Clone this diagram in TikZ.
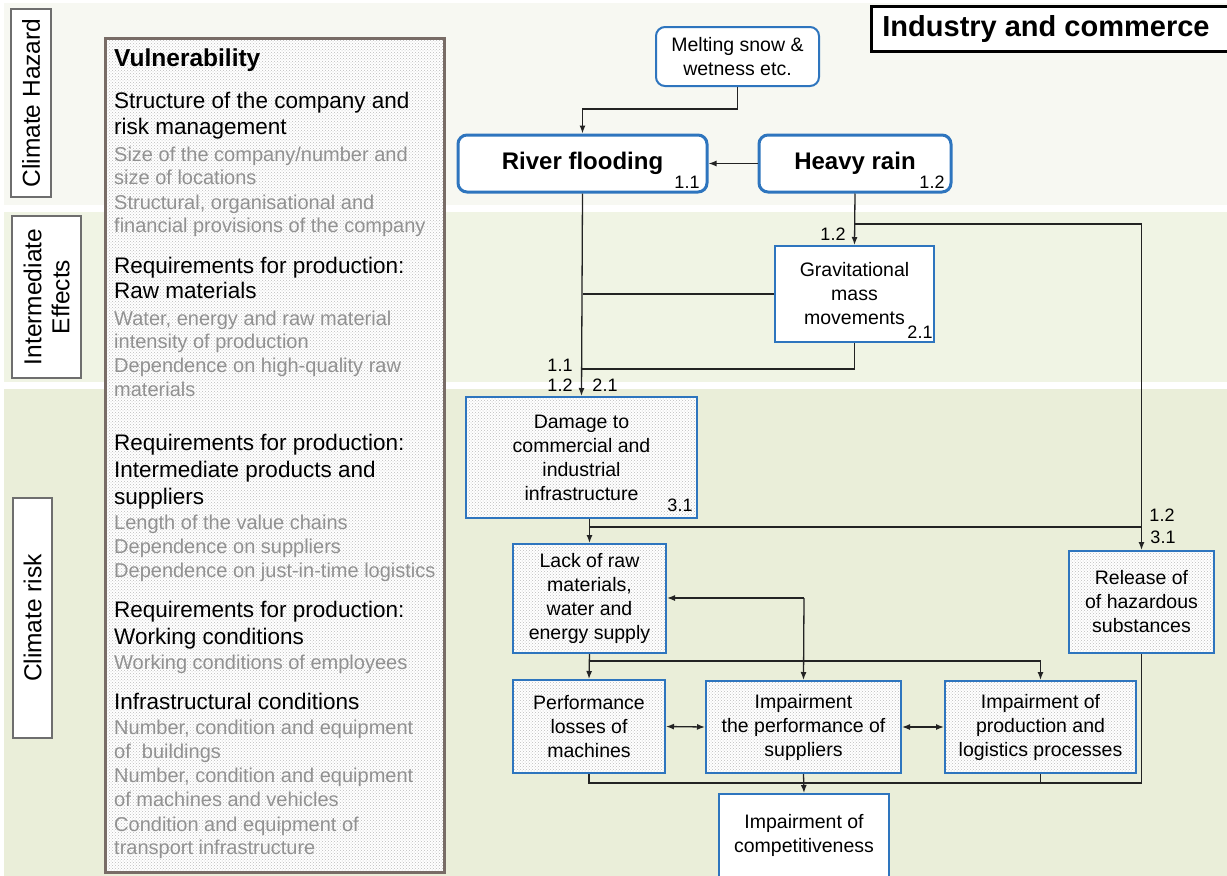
\documentclass[tikz,border=0pt]{standalone}
\usepackage{fontspec}
\setmainfont{Liberation Sans}
\usetikzlibrary{arrows.meta,patterns}

\definecolor{bandA}{RGB}{247,248,242}
\definecolor{bandB}{RGB}{240,244,228}
\definecolor{bandC}{RGB}{234,238,217}
\definecolor{flowblue}{RGB}{46,117,190}
\definecolor{vulnframe}{RGB}{120,108,102}
\definecolor{lightfont}{RGB}{145,145,145}
\definecolor{wire}{RGB}{35,35,35}
\definecolor{labelframe}{RGB}{110,110,110}

\newcommand{\fsz}[2]{\fontsize{#1}{#2}\selectfont}

\tikzset{
  sidelabel/.style={draw=labelframe, line width=1.2, fill=white, rotate=90,
    inner sep=0, align=center, font=\fsz{24.5}{28}},
  dotted fill/.style={preaction={fill=white}, pattern=crosshatch dots, pattern color=black!26},
  hazard/.style={draw=flowblue, line width=3, rounded corners=9, fill=white,
    inner sep=0, font=\bfseries\fsz{24}{28}},
  origin/.style={draw=flowblue, line width=2, rounded corners=9, fill=white,
    inner sep=0, align=center, font=\fsz{19.5}{24}},
  flowbox/.style={draw=flowblue, line width=2, fill=white, inner sep=0,
    align=center, font=\fsz{19.5}{24}},
  riskbox/.style={flowbox, dotted fill},
  tag/.style={inner sep=0, font=\fsz{18}{20}},
  vhead/.style={anchor=base west, inner sep=0, font=\fsz{22.5}{26}},
  vitem/.style={anchor=base west, inner sep=0, text=lightfont, font=\fsz{20}{24}},
  wireline/.style={draw=wire, line width=1.3},
  arr/.style={wireline, -{Latex[length=8pt,width=6pt]}},
  arrboth/.style={wireline, {Latex[length=8pt,width=6pt]}-{Latex[length=8pt,width=6pt]}},
}

\begin{document}
\begin{tikzpicture}[x=1pt,y=-1pt]
\useasboundingbox (0,0) rectangle (1227,876);
\fill[white] (0,0) rectangle (1227,876);

% horizontal bands: hazard, intermediate effects, risk
\fill[bandA] (4,3) rectangle (1227,205);
\fill[bandB] (4,212) rectangle (1227,382);
\fill[bandC] (4,389) rectangle (1227,876);

% band captions
\node[sidelabel, minimum width=188, minimum height=40] (capA) at (31,103) {Climate Hazard};
\node[sidelabel, minimum width=162, minimum height=69] (capB) at (46.5,297) {Intermediate\\Effects};
\node[sidelabel, minimum width=240, minimum height=39] (capC) at (32.5,618) {Climate risk};

% vulnerability panel
\node[draw=vulnframe, line width=3, dotted fill, minimum width=339, minimum height=834, inner sep=0] (vuln) at (274.5,455) {};
\node[vhead, font=\bfseries\fsz{24.5}{28}] (v0) at (114,66) {Vulnerability};
\node[vhead] (v1) at (114,108) {Structure of the company and};
\node[vhead] (v2) at (114,134) {risk management};
\node[vitem] (v3) at (114,161) {Size of the company/number and};
\node[vitem] (v4) at (114,184) {size of locations};
\node[vitem] (v5) at (114,209) {Structural, organisational and};
\node[vitem] (v6) at (114,232) {financial provisions of the company};
\node[vhead] (v7) at (114,273) {Requirements for production:};
\node[vhead] (v8) at (114,298) {Raw materials};
\node[vitem] (v9) at (114,325) {Water, energy and raw material};
\node[vitem] (v10) at (114,348) {intensity of production};
\node[vitem] (v11) at (114,372) {Dependence on high-quality raw};
\node[vitem] (v12) at (114,396) {materials};
\node[vhead] (v13) at (114,450) {Requirements for production:};
\node[vhead] (v14) at (114,477) {Intermediate products and};
\node[vhead] (v15) at (114,504) {suppliers};
\node[vitem] (v16) at (114,529) {Length of the value chains};
\node[vitem] (v17) at (114,553) {Dependence on suppliers};
\node[vitem] (v18) at (114,577) {Dependence on just-in-time logistics};
\node[vhead] (v19) at (114,617) {Requirements for production:};
\node[vhead] (v20) at (114,644) {Working conditions};
\node[vitem] (v21) at (114,669) {Working conditions of employees};
\node[vhead] (v22) at (114,709) {Infrastructural conditions};
\node[vitem] (v23) at (114,734) {Number, condition and equipment};
\node[vitem] (v24) at (114,758) {of\ \ buildings};
\node[vitem] (v25) at (114,782) {Number, condition and equipment};
\node[vitem] (v26) at (114,806) {of machines and vehicles};
\node[vitem] (v27) at (114,831) {Condition and equipment of};
\node[vitem] (v28) at (114,854) {transport infrastructure};

% sector title
\node[draw=black, line width=3, fill=white, minimum width=362, minimum height=45, inner sep=0] (title) at (1052,28.5) {};
\node[inner sep=0, font=\bfseries\fsz{29}{32}] (titletext) at (1046,29) {Industry and commerce};

% climate hazards
\node[origin, minimum width=163, minimum height=59] (melt) at (737.5,56.5) {Melting snow \&\\wetness etc.};
\node[hazard, minimum width=249, minimum height=57] (river) at (582.5,163.5) {River flooding};
\node[hazard, minimum width=192, minimum height=57] (rain) at (855,163.5) {Heavy rain};
\node[tag] (t11) at (687,182) {1.1};
\node[tag] (t12) at (932,182) {1.2};

% intermediate effect
\node[flowbox, minimum width=159, minimum height=96] (grav) at (854.5,294) {Gravitational\\mass\\movements};
\node[tag] (t21) at (920,332) {2.1};
\node[tag] (tg12) at (833,234) {1.2};
\node[tag] (td11) at (560,365) {1.1};
\node[tag] (td12) at (560,385) {1.2};
\node[tag] (td21) at (605,385) {2.1};

% climate risks
\node[riskbox, minimum width=231, minimum height=121] (dmg) at (581.5,457.5) {Damage to\\commercial and\\industrial\\infrastructure};
\node[tag] (t31) at (680,505) {3.1};
\node[riskbox, minimum width=153, minimum height=109] (lack) at (589.5,598.5) {Lack of raw\\materials,\\water and\\energy supply};
\node[riskbox, minimum width=145, minimum height=102] (rel) at (1141.5,602) {Release of\\of hazardous\\substances};
\node[tag] (tr12) at (1162,515) {1.2};
\node[tag] (tr31) at (1163,537) {3.1};
\node[riskbox, minimum width=152, minimum height=93] (perf) at (589,726.5) {Performance\\losses of\\machines};
\node[riskbox, minimum width=195, minimum height=92] (sup) at (803.5,727) {Impairment\\the performance of\\suppliers};
\node[riskbox, minimum width=191, minimum height=92] (prod) at (1040.5,727) {Impairment of\\production and\\logistics processes};
\node[flowbox, minimum width=170, minimum height=100, anchor=north] (comp) at (804,793) {};
\node[inner sep=0, align=center, font=\fsz{19.5}{24}] (comptext) at (804,835.5) {Impairment of\\competitiveness};

% junction points of the wiring
\coordinate (jm) at (737,109);
\coordinate (jr) at (855,224);
\coordinate (jg) at (582,369);
\coordinate (jd) at (1141,527);
\coordinate (jl) at (589,661);
\coordinate (js) at (804,598);
\coordinate (jc) at (804,783);

% hazard connections
\draw[arr] (melt.south) |- (jm) -| (river.north);
\draw[arr] (rain.west) -- (river.east);
\draw[arr] (rain.south) -- (grav.north);
\draw[arr] (jr) -| (rel.north);
\draw[arr] (river.south) -- (dmg.north);
\draw[wireline] (grav.west) -- (grav.west -| river.south);
\draw[wireline] (grav.south) |- (jg);

% risk connections
\draw[arr] (dmg.south -| lack.north) -- (lack.north);
\draw[wireline] (lack.north |- jd) -- (jd);
\draw[arr] (lack.south) -- (perf.north);
\draw[arr] (jl) -| (prod.north);
\draw[arr] (js) -- (lack.east |- js);
\draw[arr] (js) -- (sup.north);
\draw[arrboth] (perf.east) -- (sup.west);
\draw[arrboth] (sup.east) -- (prod.west);
\draw[wireline] (perf.south) |- (jc);
\draw[wireline] (prod.south) |- (jc);
\draw[wireline] (rel.south) |- (jc);
\draw[arr] (sup.south) -- (comp.north);
\end{tikzpicture}
\end{document}
